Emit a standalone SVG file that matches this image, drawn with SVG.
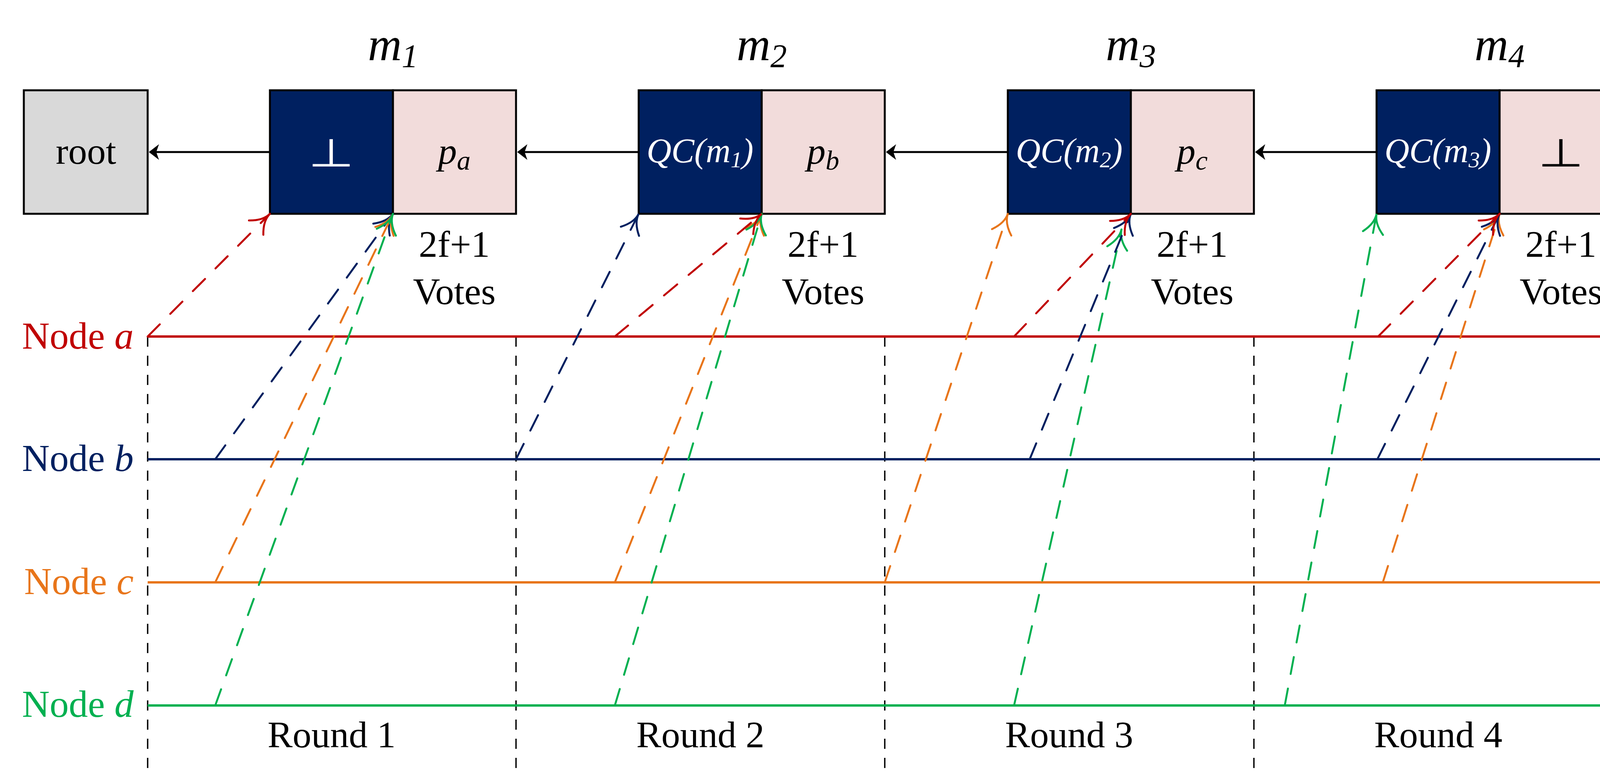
<svg xmlns="http://www.w3.org/2000/svg" width="4167" height="1988" viewBox="0 0 4167 1988">
<style>
text{font-family:"Liberation Serif","Times New Roman",serif;}
.box{stroke:#000;stroke-width:5;}
.root{fill:#D9D9D9;}
.qc{fill:#002060;}
.pl{fill:#F2DCDB;}
.lbl{font-size:96px;fill:#000;text-anchor:middle;}
.mlab{font-size:120px;font-style:italic;text-anchor:middle;fill:#000;}
.qct{font-size:88px;font-style:italic;fill:#fff;text-anchor:middle;}
.pt{font-size:96px;font-style:italic;fill:#000;text-anchor:middle;}
.tack{font-family:"DejaVu Sans",sans-serif;font-size:100px;font-weight:200;text-anchor:middle;}
.nlab{font-size:98px;text-anchor:end;}
.nline{stroke-width:6;fill:none;}
.rline{stroke:#000;stroke-width:3.5;stroke-dasharray:26 23;fill:none;}
.vote{stroke-width:5;fill:none;stroke-dasharray:44 38;stroke-linecap:round;}
.link{stroke:#000;stroke-width:5;fill:none;}
.red{stroke:#C00000;}
.navy{stroke:#002060;}
.orange{stroke:#E8751A;}
.green{stroke:#00B050;}
</style>
<defs>
<marker id="ah-blk" markerUnits="userSpaceOnUse" orient="auto" refX="0" refY="0" markerWidth="60" markerHeight="60" viewBox="-30 -30 60 60" overflow="visible">
<path d="M 15,0 L -11,-20 L -4,0 L -11,20 Z" fill="#000"/>
</marker>
<marker id="ah-red" markerUnits="userSpaceOnUse" orient="auto" refX="0" refY="0" markerWidth="80" markerHeight="80" viewBox="-60 -40 80 80" overflow="visible">
<path d="M -50,-26 Q -25,0 0,0 Q -25,0 -50,26" fill="none" stroke="#C00000" stroke-width="5" stroke-linecap="round"/>
</marker>
<marker id="ah-navy" markerUnits="userSpaceOnUse" orient="auto" refX="0" refY="0" markerWidth="80" markerHeight="80" viewBox="-60 -40 80 80" overflow="visible">
<path d="M -50,-26 Q -25,0 0,0 Q -25,0 -50,26" fill="none" stroke="#002060" stroke-width="5" stroke-linecap="round"/>
</marker>
<marker id="ah-orange" markerUnits="userSpaceOnUse" orient="auto" refX="0" refY="0" markerWidth="80" markerHeight="80" viewBox="-60 -40 80 80" overflow="visible">
<path d="M -50,-26 Q -25,0 0,0 Q -25,0 -50,26" fill="none" stroke="#E8751A" stroke-width="5" stroke-linecap="round"/>
</marker>
<marker id="ah-green" markerUnits="userSpaceOnUse" orient="auto" refX="0" refY="0" markerWidth="80" markerHeight="80" viewBox="-60 -40 80 80" overflow="visible">
<path d="M -50,-26 Q -25,0 0,0 Q -25,0 -50,26" fill="none" stroke="#00B050" stroke-width="5" stroke-linecap="round"/>
</marker>
</defs>

<g id="grid">
<line class="rline" x1="378" y1="861" x2="378" y2="1965"/>
<line class="rline" x1="1321" y1="861" x2="1321" y2="1965"/>
<line class="rline" x1="2265" y1="861" x2="2265" y2="1965"/>
<line class="rline" x1="3210" y1="861" x2="3210" y2="1965"/>
<line class="rline" x1="4154" y1="861" x2="4154" y2="1965"/>
</g>

<g id="timelines">
<line class="nline red" x1="378" y1="861" x2="4154" y2="861"/>
<line class="nline navy" x1="378" y1="1175" x2="4154" y2="1175"/>
<line class="nline orange" x1="378" y1="1490" x2="4154" y2="1490"/>
<line class="nline green" x1="378" y1="1805" x2="4154" y2="1805"/>
<text class="nlab" x="342" y="892" fill="#C00000">Node <tspan font-style="italic">a</tspan></text>
<text class="nlab" x="342" y="1205" fill="#002060">Node <tspan font-style="italic">b</tspan></text>
<text class="nlab" x="342" y="1520" fill="#E8751A">Node <tspan font-style="italic">c</tspan></text>
<text class="nlab" x="342" y="1834" fill="#00B050">Node <tspan font-style="italic">d</tspan></text>
</g>

<g id="rounds">
<text class="lbl" x="849" y="1912">Round 1</text>
<text class="lbl" x="1793" y="1912">Round 2</text>
<text class="lbl" x="2737" y="1912">Round 3</text>
<text class="lbl" x="3682" y="1912">Round 4</text>
</g>

<g id="node-root">
<rect class="box root" x="61" y="231" width="317" height="316"/>
<text class="lbl" x="220" y="419" font-size="98">root</text>
</g>

<g id="node-m1">
<rect class="box qc" x="691" y="231" width="315" height="316"/>
<rect class="box pl" x="1006" y="231" width="315" height="316"/>
<text class="tack" transform="translate(848,426) scale(1.35,1)" x="0" y="0" fill="#fff">⊥</text>
<text class="pt" x="1163" y="419">p<tspan font-size="70" dy="15">a</tspan></text>
<text class="mlab" x="1006" y="154">m<tspan font-size="84" dy="18">1</tspan></text>
<text class="lbl" x="1163" y="657">2f+1</text>
<text class="lbl" x="1163" y="778">Votes</text>
</g>

<g id="node-m2">
<rect class="box qc" x="1635" y="231" width="315" height="316"/>
<rect class="box pl" x="1950" y="231" width="315" height="316"/>
<text class="qct" x="1792" y="415">QC(m<tspan font-size="58" dy="13">1</tspan><tspan dy="-13">)</tspan></text>
<text class="pt" x="2107" y="419">p<tspan font-size="70" dy="15">b</tspan></text>
<text class="mlab" x="1950" y="154">m<tspan font-size="84" dy="18">2</tspan></text>
<text class="lbl" x="2107" y="657">2f+1</text>
<text class="lbl" x="2107" y="778">Votes</text>
</g>

<g id="node-m3">
<rect class="box qc" x="2580" y="231" width="315" height="316"/>
<rect class="box pl" x="2895" y="231" width="315" height="316"/>
<text class="qct" x="2737" y="415">QC(m<tspan font-size="58" dy="13">2</tspan><tspan dy="-13">)</tspan></text>
<text class="pt" x="3052" y="419">p<tspan font-size="70" dy="15">c</tspan></text>
<text class="mlab" x="2895" y="154">m<tspan font-size="84" dy="18">3</tspan></text>
<text class="lbl" x="3052" y="657">2f+1</text>
<text class="lbl" x="3052" y="778">Votes</text>
</g>

<g id="node-m4">
<rect class="box qc" x="3524" y="231" width="315" height="316"/>
<rect class="box pl" x="3839" y="231" width="315" height="316"/>
<text class="qct" x="3681" y="415">QC(m<tspan font-size="58" dy="13">3</tspan><tspan dy="-13">)</tspan></text>
<text class="tack" transform="translate(3996,426) scale(1.35,1)" x="0" y="0" fill="#000">⊥</text>
<text class="mlab" x="3839" y="154">m<tspan font-size="84" dy="18">4</tspan></text>
<text class="lbl" x="3996" y="657">2f+1</text>
<text class="lbl" x="3996" y="778">Votes</text>
</g>

<g id="connectors">
<line class="link" x1="691" y1="389" x2="396" y2="389" marker-end="url(#ah-blk)"/>
<line class="link" x1="1635" y1="389" x2="1339" y2="389" marker-end="url(#ah-blk)"/>
<line class="link" x1="2580" y1="389" x2="2283" y2="389" marker-end="url(#ah-blk)"/>
<line class="link" x1="3524" y1="389" x2="3228" y2="389" marker-end="url(#ah-blk)"/>

<line class="vote red" x1="378" y1="861" x2="691" y2="547" marker-end="url(#ah-red)"/>
<line class="vote navy" x1="551" y1="1175" x2="1006" y2="547" marker-end="url(#ah-navy)"/>
<line class="vote orange" x1="551" y1="1490" x2="1006" y2="547" marker-end="url(#ah-orange)"/>
<line class="vote green" x1="551" y1="1805" x2="1006" y2="547" marker-end="url(#ah-green)"/>

<line class="vote navy" x1="1321" y1="1175" x2="1635" y2="547" marker-end="url(#ah-navy)"/>
<line class="vote orange" x1="1574" y1="1490" x2="1950" y2="547" marker-end="url(#ah-orange)"/>
<line class="vote green" x1="1574" y1="1805" x2="1950" y2="547" marker-end="url(#ah-green)"/>
<line class="vote red" x1="1574" y1="861" x2="1950" y2="547" marker-end="url(#ah-red)"/>

<line class="vote orange" x1="2265" y1="1490" x2="2580" y2="547" marker-end="url(#ah-orange)"/>
<line class="vote green" x1="2596" y1="1805" x2="2871" y2="587" marker-end="url(#ah-green)"/>
<line class="vote navy" x1="2636" y1="1175" x2="2895" y2="547" marker-end="url(#ah-navy)"/>
<line class="vote red" x1="2596" y1="861" x2="2895" y2="547" marker-end="url(#ah-red)"/>

<line class="vote green" x1="3289" y1="1805" x2="3524" y2="547" marker-end="url(#ah-green)"/>
<line class="vote orange" x1="3540" y1="1490" x2="3839" y2="547" marker-end="url(#ah-orange)"/>
<line class="vote navy" x1="3526" y1="1175" x2="3839" y2="547" marker-end="url(#ah-navy)"/>
<line class="vote red" x1="3528" y1="861" x2="3839" y2="547" marker-end="url(#ah-red)"/>
</g>
</svg>
